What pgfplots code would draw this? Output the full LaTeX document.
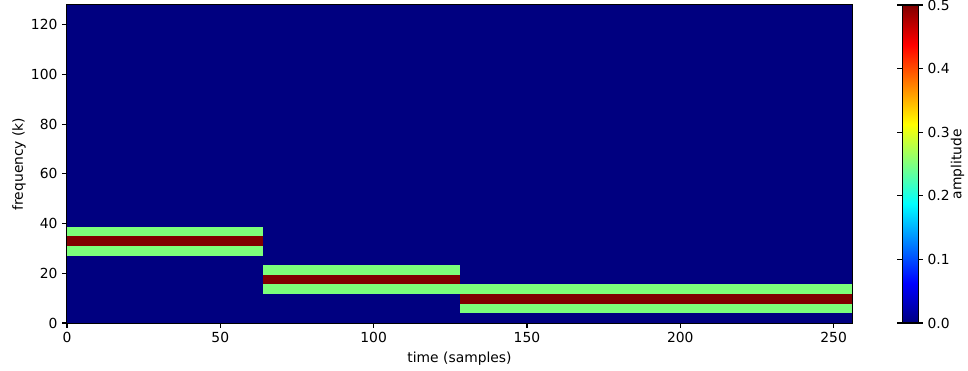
\documentclass[border=0pt]{standalone}
\usepackage{pgfplots}
\pgfplotsset{compat=1.18}
\usepackage{fontspec}
\setmainfont{DejaVu Sans}
\definecolor{jetlow}{RGB}{0,0,128}
\definecolor{jetmid}{RGB}{124,255,122}
\definecolor{jethigh}{RGB}{128,0,0}
\pgfplotsset{
  every tick label/.append style={font=\fontsize{10.4}{12}\selectfont},
  every axis label/.append style={font=\fontsize{10.4}{12}\selectfont},
  /pgf/number format/assume math mode=true,
}
\begin{document}
\begin{tikzpicture}
\begin{axis}[
  scale only axis,
  width=588.75pt, height=238.5pt,
  xmin=0, xmax=256, ymin=0, ymax=128,
  xtick={0,50,...,250}, ytick={0,20,...,120},
  tick align=outside, tick pos=left,
  major tick length=3.65pt,
  axis line style={line width=0.83pt},
  every tick/.style={black, line width=0.83pt},
  xlabel={time (samples)}, ylabel={frequency (k)},
  ylabel shift=-3pt,
  colormap/jet,
  point meta min=0, point meta max=0.5,
  colorbar,
  colorbar style={
    at={(parent axis.north east)}, anchor=north west, xshift=29pt,
    width=12pt,
    ytick={0,0.1,...,0.5},
    yticklabel style={/pgf/number format/.cd, fixed, fixed zerofill, precision=1},
    ylabel={amplitude},
    ylabel shift=-6pt,
    tick align=outside,
    major tick length=3.65pt,
    axis line style={line width=0.83pt},
    every tick/.style={black, line width=0.83pt},
  },
]
% background: amplitude 0 everywhere
\addplot[draw=none, fill=jetlow] coordinates {(0,0) (256,0) (256,128) (0,128)} -- cycle;
% segment 1 (0-64 samples): bins 7-9, peak at bin 8
\addplot[draw=none, fill=jetmid] coordinates {(0,27.152) (64,27.152) (64,38.788) (0,38.788)} -- cycle;
\addplot[draw=none, fill=jethigh] coordinates {(0,31.030) (64,31.030) (64,34.909) (0,34.909)} -- cycle;
% segment 2 (64-128 samples): bins 3-5, peak at bin 4
\addplot[draw=none, fill=jetmid] coordinates {(64,11.636) (128,11.636) (128,23.273) (64,23.273)} -- cycle;
\addplot[draw=none, fill=jethigh] coordinates {(64,15.515) (128,15.515) (128,19.394) (64,19.394)} -- cycle;
% segment 3 (128-256 samples): bins 1-3, peak at bin 2
\addplot[draw=none, fill=jetmid] coordinates {(128,3.879) (256,3.879) (256,15.515) (128,15.515)} -- cycle;
\addplot[draw=none, fill=jethigh] coordinates {(128,7.758) (256,7.758) (256,11.636) (128,11.636)} -- cycle;
\end{axis}
\pgfresetboundingbox
\path[use as bounding box] (current axis.south west) ++(-50.25pt,-36pt) rectangle ++(726pt,278.25pt);
\end{tikzpicture}
\end{document}
